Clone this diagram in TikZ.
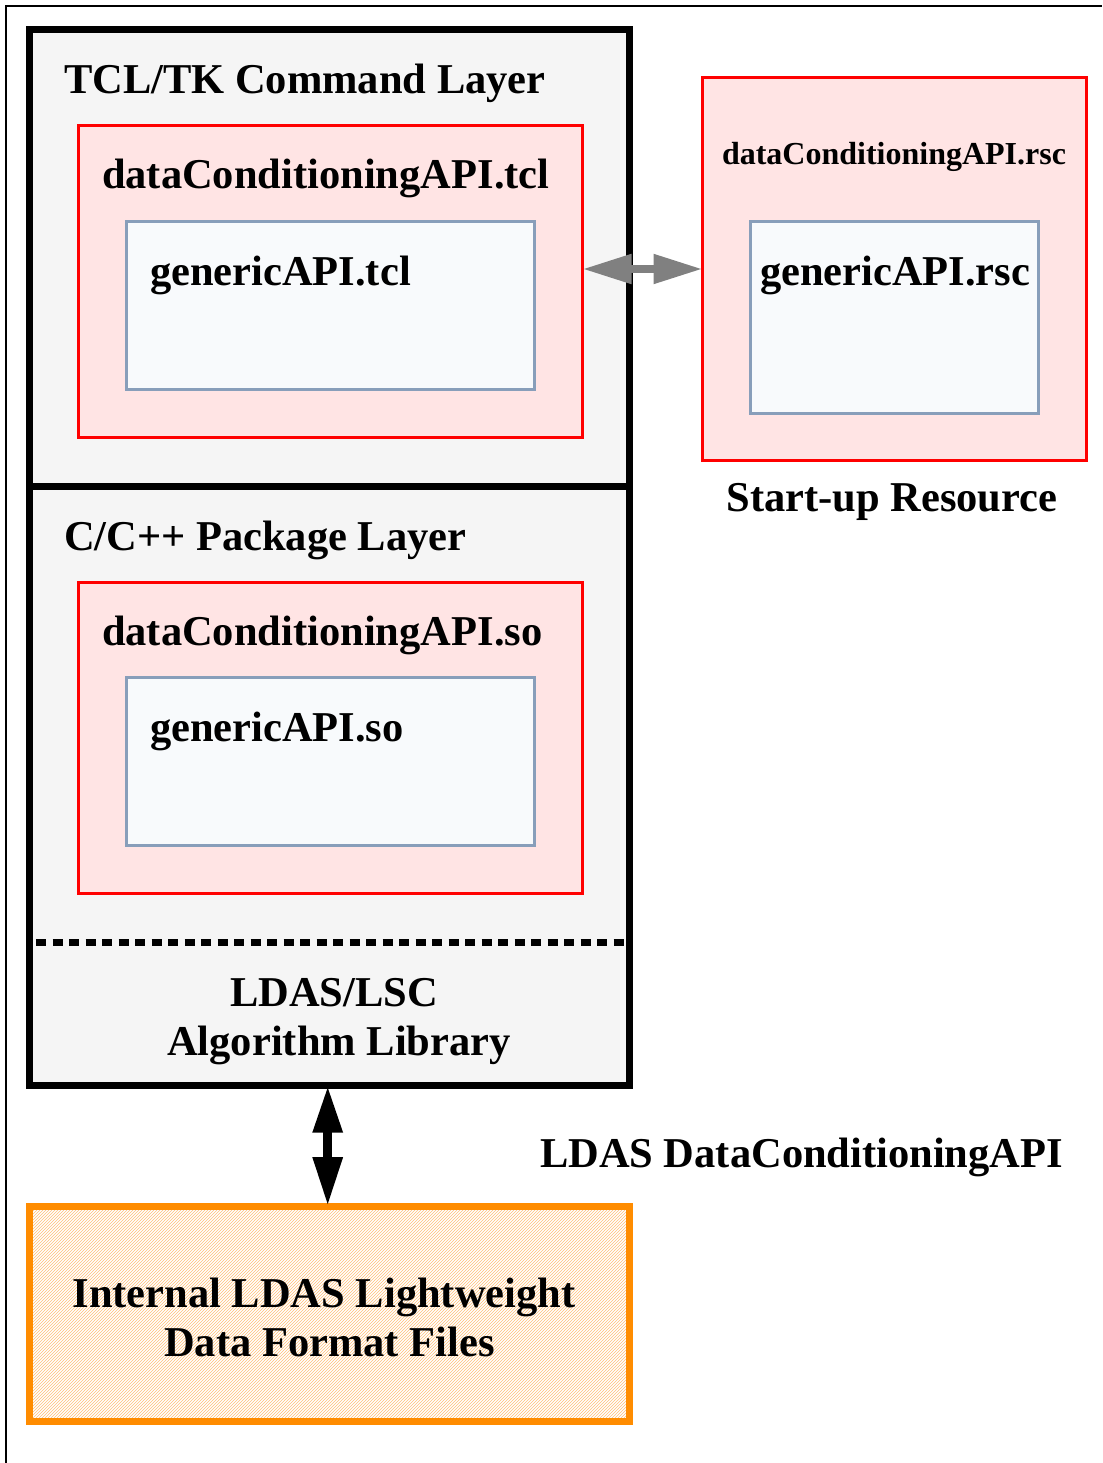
\documentclass[tikz,border=0pt]{standalone}
\usepackage{fontspec}
\setmainfont{Liberation Serif}
\usepackage{xcolor}
\usetikzlibrary{arrows.meta,patterns}
\definecolor{layergray}{RGB}{245,245,245}
\definecolor{libpink}{RGB}{255,228,228}
\definecolor{libred}{RGB}{255,0,0}
\definecolor{apiblue}{RGB}{136,158,186}
\definecolor{apifill}{RGB}{248,250,252}
\definecolor{fileorange}{RGB}{255,140,0}
\definecolor{hatchorange}{RGB}{255,190,120}
\begin{document}
\begin{tikzpicture}[x=1pt,y=-1pt,
  every node/.style={font=\fontsize{42.5}{50}\selectfont\bfseries,outer sep=0pt},
  layerbox/.style={draw=black,line width=7pt,fill=layergray,anchor=north west,inner sep=0pt},
  libbox/.style={draw=libred,line width=3pt,fill=libpink,anchor=north west,inner sep=0pt},
  apibox/.style={draw=apiblue,line width=3pt,fill=apifill,anchor=north west,inner sep=0pt},
  label/.style={anchor=base west,inner sep=0pt},
  clabel/.style={anchor=base,inner sep=0pt}]
			\useasboundingbox (0,0) rectangle (1102,1463);
			\draw[line width=2pt] (5.7,1463) -- (5.7,5.7) -- (1102,5.7);
			\node[layerbox,minimum width=600pt,minimum height=1056pt] (mainbox) at (29.7,29.7) {};
			\draw[line width=7pt] (mainbox.west |- 0,486) -- (mainbox.east |- 0,486);
			\draw[line width=7pt,dash pattern=on 10pt off 6.5pt] (36,942) -- (629.7,942);
			\node[libbox,minimum width=504pt,minimum height=311pt] (dctcl) at (78.5,126) {};
			\node[apibox,minimum width=408pt,minimum height=168pt] (gentcl) at (126.5,221.5) {};
			\node[libbox,minimum width=504pt,minimum height=311pt] (dcso) at (78.5,582) {};
			\node[apibox,minimum width=408pt,minimum height=168pt] (genso) at (126.5,677.5) {};
			\node[libbox,minimum width=384pt,minimum height=383pt] (dcrsc) at (702.5,77.5) {};
			\node[apibox,minimum width=288pt,minimum height=191.5pt] (genrsc) at (750.5,221.5) {};
			\node[draw=fileorange,line width=7pt,pattern=north east lines,pattern color=hatchorange,
			  anchor=north west,inner sep=0pt,minimum width=600pt,minimum height=215.5pt] (files) at (29.7,1206) {};
			\node[label] (tcltitle) at (64,94) {TCL/TK Command Layer};
			\node[label] (dctcltext) at (102,189) {dataConditioningAPI.tcl};
			\node[label] (gentcltext) at (150,285) {genericAPI.tcl};
			\node[label,font=\fontsize{32}{38}\selectfont\bfseries] (dcrsctext) at (722,165) {dataConditioningAPI.rsc};
			\node[label] (genrsctext) at (760,285) {genericAPI.rsc};
			\node[clabel] (rsctitle) at (892,511) {Start-up Resource};
			\node[label] (pkgtitle) at (64,550) {C/C++ Package Layer};
			\node[label] (dcsotext) at (102,645) {dataConditioningAPI.so};
			\node[label] (gensotext) at (150,741) {genericAPI.so};
			\node[clabel] (libtext) at (334,1006) {LDAS/LSC};
			\node[clabel] (algtext) at (339,1055) {Algorithm Library};
			\node[label] (apititle) at (540,1167) {LDAS DataConditioningAPI};
			\node[clabel] (filetext) at (324,1307) {Internal LDAS Lightweight};
			\node[clabel] (fmttext) at (329.5,1356) {Data Format Files};
			\draw[gray,line width=8pt,{Triangle[length=49pt,width=28pt]}-{Triangle[length=49pt,width=28pt]}]
			  (dcrsc.west -| dctcl.east) -- (dcrsc.west);
			\draw[black,line width=9pt,{Triangle[length=47pt,width=28pt]}-{Triangle[length=49pt,width=28pt]}]
			  ([xshift=-2pt]mainbox.south) -- ([xshift=-2pt]files.north);
		\end{tikzpicture}
\end{document}
